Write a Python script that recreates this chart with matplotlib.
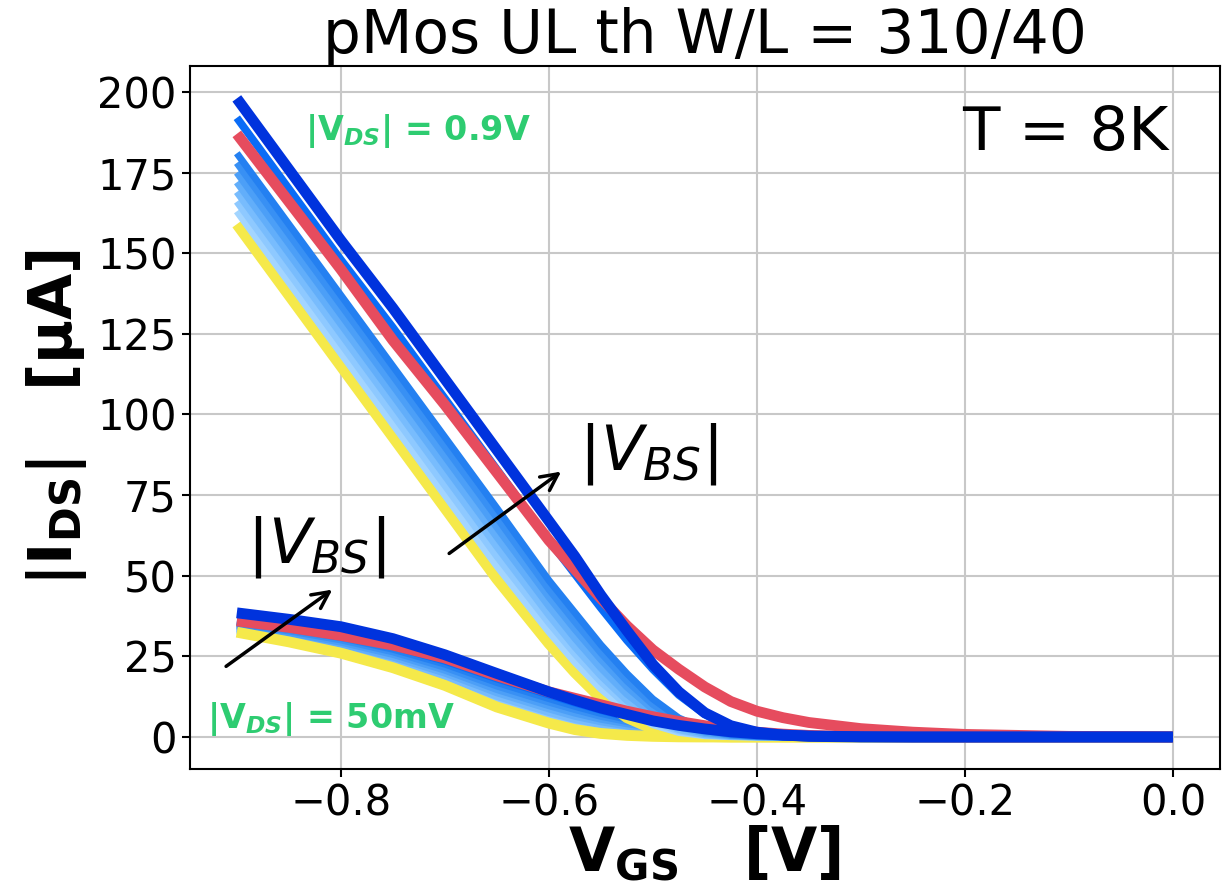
import matplotlib
matplotlib.use('Agg')
import matplotlib.pyplot as plt

# ---------------- data ----------------
vgs = [-0.90, -0.85, -0.80, -0.75, -0.70, -0.65, -0.60, -0.575, -0.55, -0.525, -0.50,
       -0.475, -0.45, -0.425, -0.40, -0.375, -0.35, -0.30, -0.25, -0.20, -0.10, 0.0]

# |VDS| = 0.9 V family (uA)
ids_09_y = [159, 137, 115, 93, 71, 49, 29, 20, 12, 6, 2.5, 0.8, 0.2, 0, 0, 0, 0, 0, 0, 0, 0, 0]
ids_09_b1 = [163, 141, 119, 97, 75, 53, 32.6, 23.2, 14.9, 8.2, 3.8, 1.4, 0.4, 0.1, 0, 0, 0, 0, 0, 0, 0, 0]
ids_09_b2 = [166, 144, 122, 100, 78, 56, 35.4, 25.8, 17.1, 9.8, 4.7, 1.9, 0.6, 0.15, 0, 0, 0, 0, 0, 0, 0, 0]
ids_09_b3 = [169, 147, 125, 103, 81, 59, 37.8, 27.9, 19.0, 11.3, 5.6, 2.3, 0.7, 0.2, 0.05, 0, 0, 0, 0, 0, 0, 0]
ids_09_b4 = [172, 150, 128, 106, 84, 62, 40.6, 30.6, 21.4, 13.3, 7.0, 3.1, 1.1, 0.3, 0.05, 0, 0, 0, 0, 0, 0, 0]
ids_09_b5 = [175, 153, 131, 109, 87, 65, 43.4, 33.4, 24.0, 15.5, 8.6, 4.0, 1.5, 0.5, 0.1, 0, 0, 0, 0, 0, 0, 0]
ids_09_b6 = [178, 156, 134, 112, 90, 68, 45.8, 35.8, 26.1, 17.4, 10.1, 4.9, 2.0, 0.6, 0.15, 0, 0, 0, 0, 0, 0, 0]
ids_09_b7 = [181, 159, 137, 115, 93, 71, 48.6, 38.6, 28.6, 19.7, 11.8, 5.9, 2.4, 0.8, 0.2, 0.05, 0, 0, 0, 0, 0, 0]
ids_09_bb = [192, 170, 148, 127, 105, 83, 61, 50.5, 40, 30, 21, 13, 7, 3, 1.2, 0.4, 0.1, 0, 0, 0, 0, 0]
ids_09_red = [187, 166, 145, 123, 103, 82, 61, 52, 43, 34.5, 27, 21, 15.5, 11, 8, 6, 4.5, 2.6, 1.5, 0.8, 0.2, 0.05]
ids_09_db = [198, 176, 154, 133, 111, 89, 67, 56, 44, 33, 22.5, 14, 7.5, 3.5, 1.5, 0.6, 0.2, 0, 0, 0, 0, 0]

# |VDS| = 50 mV family (uA)
ids_05_y = [32.5, 29.5, 26, 21.5, 16, 9.3, 4.3, 2.3, 1.1, 0.5, 0.2, 0.05, 0, 0, 0, 0, 0, 0, 0, 0, 0, 0]
ids_05_b1 = [32.9, 30.1, 26.7, 22.3, 16.9, 10.4, 5.4, 3.3, 2.0, 1.2, 0.7, 0.4, 0.25, 0.15, 0.1, 0.05, 0, 0, 0, 0, 0, 0]
ids_05_b2 = [33.3, 30.6, 27.4, 23.1, 17.9, 11.5, 6.5, 4.4, 2.9, 1.9, 1.3, 0.8, 0.5, 0.3, 0.2, 0.1, 0.05, 0, 0, 0, 0, 0]
ids_05_b3 = [33.7, 31.2, 28.1, 23.9, 18.8, 12.6, 7.6, 5.4, 3.8, 2.6, 1.8, 1.2, 0.75, 0.45, 0.25, 0.15, 0.05, 0, 0, 0, 0, 0]
ids_05_b4 = [34.2, 31.8, 28.8, 24.8, 19.8, 13.7, 8.7, 6.4, 4.7, 3.4, 2.4, 1.6, 1.0, 0.6, 0.35, 0.2, 0.08, 0.02, 0, 0, 0, 0]
ids_05_b5 = [34.6, 32.3, 29.4, 25.6, 20.7, 14.7, 9.7, 7.4, 5.5, 4.1, 2.9, 2.0, 1.25, 0.75, 0.45, 0.22, 0.1, 0.03, 0, 0, 0, 0]
ids_05_b6 = [35.0, 32.9, 30.1, 26.4, 21.6, 15.8, 10.8, 8.5, 6.4, 4.8, 3.4, 2.3, 1.5, 0.9, 0.5, 0.26, 0.11, 0.04, 0, 0, 0, 0]
ids_05_b7 = [35.4, 33.4, 30.8, 27.2, 22.6, 16.9, 11.9, 9.5, 7.3, 5.5, 4.0, 2.7, 1.75, 1.05, 0.6, 0.3, 0.13, 0.04, 0, 0, 0, 0]
ids_05_bb = [35.8, 34, 31.5, 28, 23.5, 18, 13, 10.5, 8.2, 6.2, 4.5, 3.1, 2.0, 1.2, 0.7, 0.35, 0.15, 0.05, 0, 0, 0, 0]
ids_05_red = [36, 34, 31.5, 28.5, 24.5, 19, 14, 12, 10, 8, 6.3, 4.8, 3.5, 2.4, 1.5, 0.9, 0.5, 0.15, 0.05, 0, 0, 0]
ids_05_db = [38.5, 36.5, 34.2, 30.5, 25.5, 19.7, 14, 11.4, 9, 7, 5, 3.6, 2.5, 1.6, 1.0, 0.6, 0.3, 0.1, 0, 0, 0, 0]

yticks = [0, 25, 50, 75, 100, 125, 150, 175, 200]
xticks = [-0.8, -0.6, -0.4, -0.2, 0.0]

# ---------------- styles ----------------
c_yellow = '#f5e94a'
c_blues = ['#a3d5ff', '#8ec9ff', '#78bcfd', '#62aefa', '#4c9ff7', '#3890f4', '#2480f1']
c_bright = '#0a6cf7'
c_red = '#e64c5e'
c_dark = '#0033dd'
c_green = '#2ecc71'

fig = plt.figure(figsize=(12.22, 8.91), dpi=100)
ax = fig.add_axes([0.1555, 0.137, 0.8426, 0.7884])

lw_main = 7.8
lw_blue = 5.0

low_blues = [ids_05_b1, ids_05_b2, ids_05_b3, ids_05_b4, ids_05_b5, ids_05_b6, ids_05_b7]
up_blues = [ids_09_b1, ids_09_b2, ids_09_b3, ids_09_b4, ids_09_b5, ids_09_b6, ids_09_b7]

# low-VDS family first (yellow on top of its blues)
for arr, c in zip(low_blues, c_blues):
    ax.plot(vgs, arr, color=c, lw=lw_blue, solid_capstyle='butt')
ax.plot(vgs, ids_05_bb, color=c_bright, lw=lw_blue, solid_capstyle='butt')
ax.plot(vgs, ids_05_y, color=c_yellow, lw=lw_main, solid_capstyle='butt')

# high-VDS family
ax.plot(vgs, ids_09_y, color=c_yellow, lw=lw_main, solid_capstyle='butt')
for arr, c in zip(up_blues, c_blues):
    ax.plot(vgs, arr, color=c, lw=lw_blue, solid_capstyle='butt')
ax.plot(vgs, ids_09_bb, color=c_bright, lw=lw_blue + 0.6, solid_capstyle='butt')

ax.plot(vgs, ids_05_red, color=c_red, lw=lw_main, solid_capstyle='butt')
ax.plot(vgs, ids_09_red, color=c_red, lw=lw_main, solid_capstyle='butt')
ax.plot(vgs, ids_05_db, color=c_dark, lw=lw_main, solid_capstyle='butt')
ax.plot(vgs, ids_09_db, color=c_dark, lw=lw_main, solid_capstyle='butt')

ax.set_xticks(xticks)
ax.set_yticks(yticks)
ax.margins(x=0.05, y=0.05)
ax.grid(True, color='#c8c8c8', linewidth=1.5)
ax.set_axisbelow(True)
ax.tick_params(labelsize=30, length=6, width=1.5)
for s in ax.spines.values():
    s.set_linewidth(1.5)

ax.set_title('pMos UL th W/L = 310/40', fontsize=43, pad=8)
ax.set_xlabel(r'$\mathbf{V_{GS}}$   [V]', fontsize=43, fontweight='bold', labelpad=0)
ax.set_ylabel(r'$\mathbf{|I_{DS}|}$   [μA]', fontsize=43, fontweight='bold', labelpad=6)

ax.text(-0.004, 182, 'T = 8K', fontsize=44, ha='right', va='baseline')

ax.text(-0.834, 185, r'$\mathbf{|V}_{\mathbfit{DS}}\mathbf{|}$ = 0.9V', fontsize=24,
        fontweight='bold', color=c_green, ha='left', va='baseline')
ax.text(-0.929, 2.8, r'$\mathbf{|V}_{\mathbfit{DS}}\mathbf{|}$ = 50mV', fontsize=24,
        fontweight='bold', color=c_green, ha='left', va='baseline')

ax.text(-0.571, 82.8, r'$|V_{BS}|$', fontsize=45, ha='left', va='baseline')
ax.text(-0.890, 54, r'$|V_{BS}|$', fontsize=45, ha='left', va='baseline')

ax.annotate('', xy=(-0.586, 82.8), xytext=(-0.698, 56.4),
            arrowprops=dict(arrowstyle='->', lw=2.5, color='black', mutation_scale=30))
ax.annotate('', xy=(-0.806, 46.2), xytext=(-0.9125, 21.4),
            arrowprops=dict(arrowstyle='->', lw=2.5, color='black', mutation_scale=30))

fig.savefig('out.png', dpi=100)
